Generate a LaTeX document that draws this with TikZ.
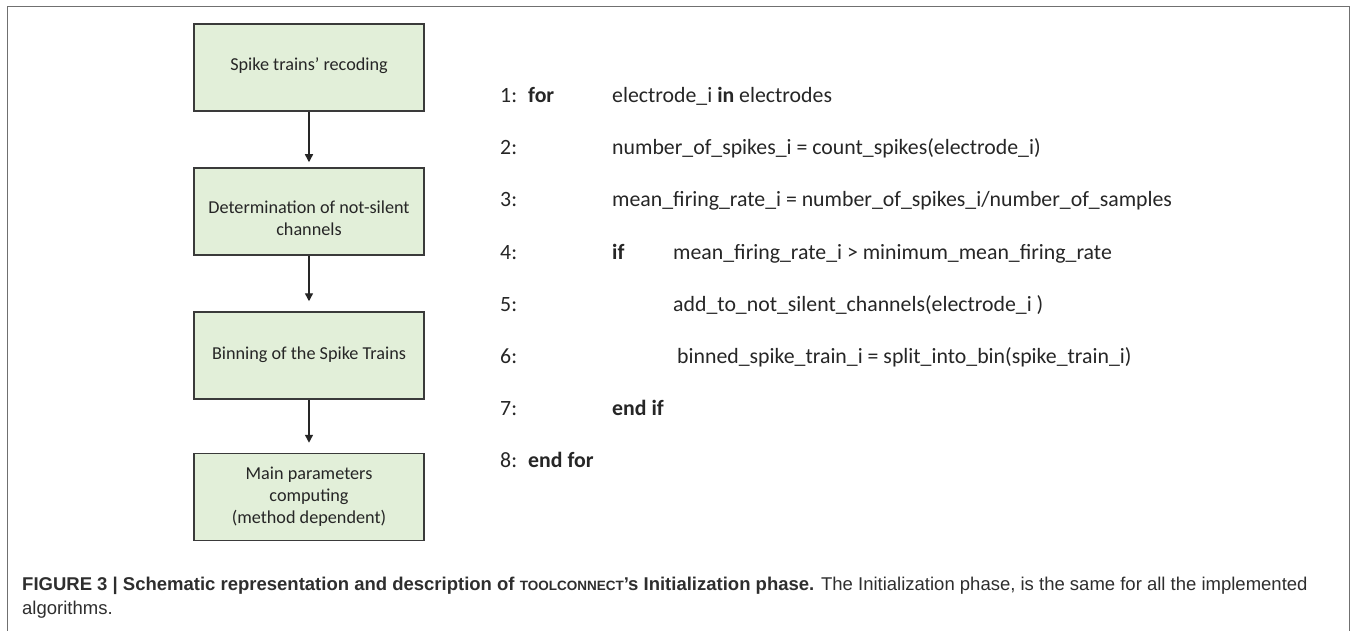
\documentclass[tikz,border=0pt]{standalone}
\usepackage{fontspec}
\setmainfont{Carlito}
\newfontfamily\capfont{Liberation Sans}
\usetikzlibrary{arrows.meta}
\definecolor{boxfill}{HTML}{E2EFD9}
\definecolor{boxline}{HTML}{3A3A3A}
\definecolor{framegray}{HTML}{707070}
\definecolor{txt}{HTML}{262626}
\begin{document}
\begin{tikzpicture}[x=1pt,y=-1pt,
  stepbox/.style={draw=boxline,line width=1.5pt,fill=boxfill,minimum width=230pt,minimum height=87pt,inner sep=0pt},
  boxtext/.style={align=center,text=txt,font=\fontsize{18.2}{22}\selectfont,inner sep=0pt},
  flow/.style={draw=black!85,line width=1.4pt,-{Triangle[length=8pt,width=8pt]}},
  code/.style={anchor=base west,text=txt,font=\fontsize{21.8}{26}\selectfont,inner sep=0pt},
  captext/.style={anchor=base west,text=black!82,font=\capfont\fontsize{18.5}{22}\selectfont,inner sep=0pt}]
\useasboundingbox (0,0) rectangle (1357,631);
\fill[white] (0,0) rectangle (1357,631);
% outer frame, open at the bottom
\draw[framegray,line width=1.8pt] (7.5,640) -- (7.5,6.5) -- (1349.5,6.5) -- (1349.5,640);

% flow chart
\node[stepbox] (s1) at (309,67.5) {};
\node[stepbox] (s2) at (309,211.5) {};
\node[stepbox] (s3) at (309,355.5) {};
\node[stepbox] (s4) at (309,497) {};
\node[boxtext] (t1) at ([yshift=2pt]s1.center) {Spike trains' recoding};
\node[boxtext] (t2) at ([yshift=-7pt]s2.center) {Determination of not-silent\\channels};
\node[boxtext] (t3) at ([yshift=1pt]s3.center) {Binning of the Spike Trains};
\node[boxtext] (t4) at (s4.center) {Main parameters\\computing\\(method dependent)};
\draw[flow] (s1.south) -- ([yshift=5pt]s2.north);
\draw[flow] (s2.south) -- ([yshift=10pt]s3.north);
\draw[flow] (s3.south) -- ([yshift=10pt]s4.north);

% pseudocode
\node[code] (n1) at (500,103) {1:};
\node[code] (k1) at (528,103) {\textbf{for}};
\node[code] (c1) at (612,103) {electrode\_i \textbf{in} electrodes};
\node[code] (n2) at (500,155) {2:};
\node[code] (c2) at (612,155) {number\_of\_spikes\_i = count\_spikes(electrode\_i)};
\node[code] (n3) at (500,207) {3:};
\node[code] (c3) at (612,207) {mean\_firing\_rate\_i = number\_of\_spikes\_i/number\_of\_samples};
\node[code] (n4) at (500,259) {4:};
\node[code] (k4) at (612,259) {\textbf{if}};
\node[code] (c4) at (673,259) {mean\_firing\_rate\_i > minimum\_mean\_firing\_rate};
\node[code] (n5) at (500,311) {5:};
\node[code] (c5) at (673,311) {add\_to\_not\_silent\_channels(electrode\_i )};
\node[code] (n6) at (500,363) {6:};
\node[code] (c6) at (677,363) {binned\_spike\_train\_i = split\_into\_bin(spike\_train\_i)};
\node[code] (n7) at (500,415) {7:};
\node[code] (k7) at (612,415) {\textbf{end if}};
\node[code] (n8) at (500,467) {8:};
\node[code] (k8) at (528,467) {\textbf{end for}};

% caption
\node[captext] (cap1) at (22,590) {\textbf{FIGURE 3 | Schematic representation and description of {\fontsize{13.5}{22}\selectfont TOOLCONNECT}’s Initialization phase.} The Initialization phase, is the same for all the implemented};
\node[captext] (cap2) at (22,614) {algorithms.};
\end{tikzpicture}
\end{document}
